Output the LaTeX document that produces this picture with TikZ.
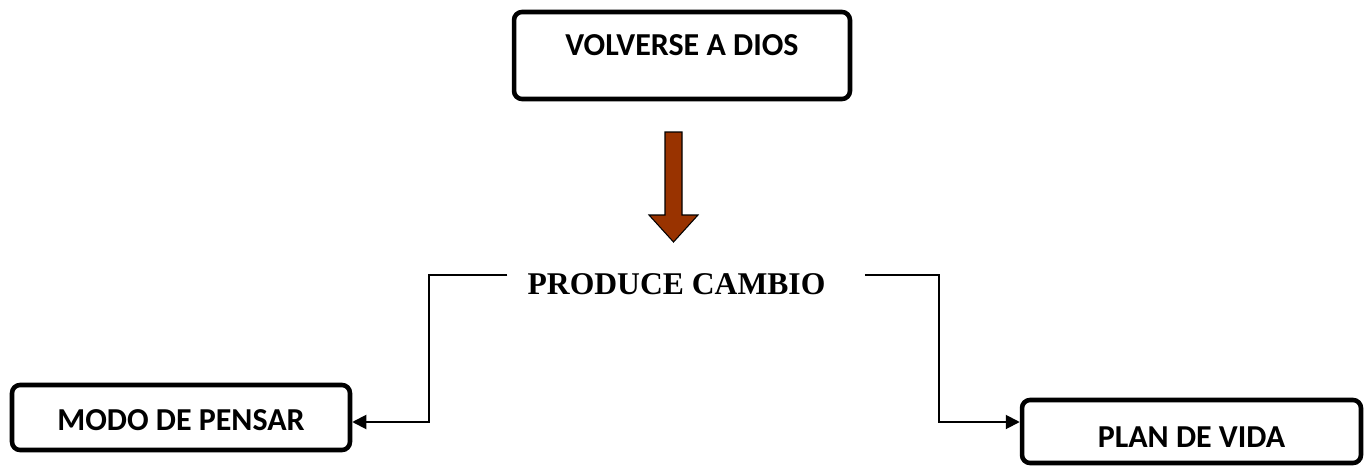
\documentclass[tikz,border=0pt]{standalone}
\usepackage{fontspec}
\setmainfont{Liberation Serif}
\newfontfamily\boxfont{Carlito}
\usetikzlibrary{arrows.meta,calc}
\definecolor{arrowbrown}{HTML}{993300}

\begin{document}
\begin{tikzpicture}[x=0.02cm,y=-0.02cm,
  box/.style={draw,line width=2.6pt,rounded corners=0.16cm,inner sep=0pt,font=\boxfont\bfseries\fontsize{18.2}{20}\selectfont},
  conn/.style={line width=1.1pt,-{Triangle[length=0.28cm,width=0.28cm]}}]

\useasboundingbox (0,0) rectangle (1370,470);

% node boxes
\node[box,name=dios,minimum width=6.72cm,text height=0.86cm,text depth=0.88cm] at (682,55.5) {VOLVERSE A DIOS};
\node[box,name=modo,minimum width=6.76cm,text height=0.9cm,text depth=0.4cm] at (181,417.5) {MODO DE PENSAR};
\node[box,name=plan,minimum width=6.78cm,text height=0.94cm,text depth=0.32cm] at (1191.5,431.5) {PLAN DE VIDA};
\node[name=cambio,inner xsep=0.4cm,inner ysep=0pt,text height=0.9cm,text depth=0.12cm,font=\bfseries\fontsize{18}{20}\selectfont] at (676.5,275) {PRODUCE CAMBIO};

% brown arrow
\filldraw[fill=arrowbrown,line width=0.6pt] (665,132) -- (682,132) -- (682,215) -- (698,215) -- (673.5,242) -- (649,215) -- (665,215) -- cycle;

% connections
\draw[conn] (cambio.west) -- ++(-78,0) |- ([yshift=-0.09cm]modo.east);
\draw[conn] ([xshift=0.38cm]cambio.east) -- ++(74,0) |- ([yshift=0.19cm]plan.west);

\end{tikzpicture}
\end{document}
